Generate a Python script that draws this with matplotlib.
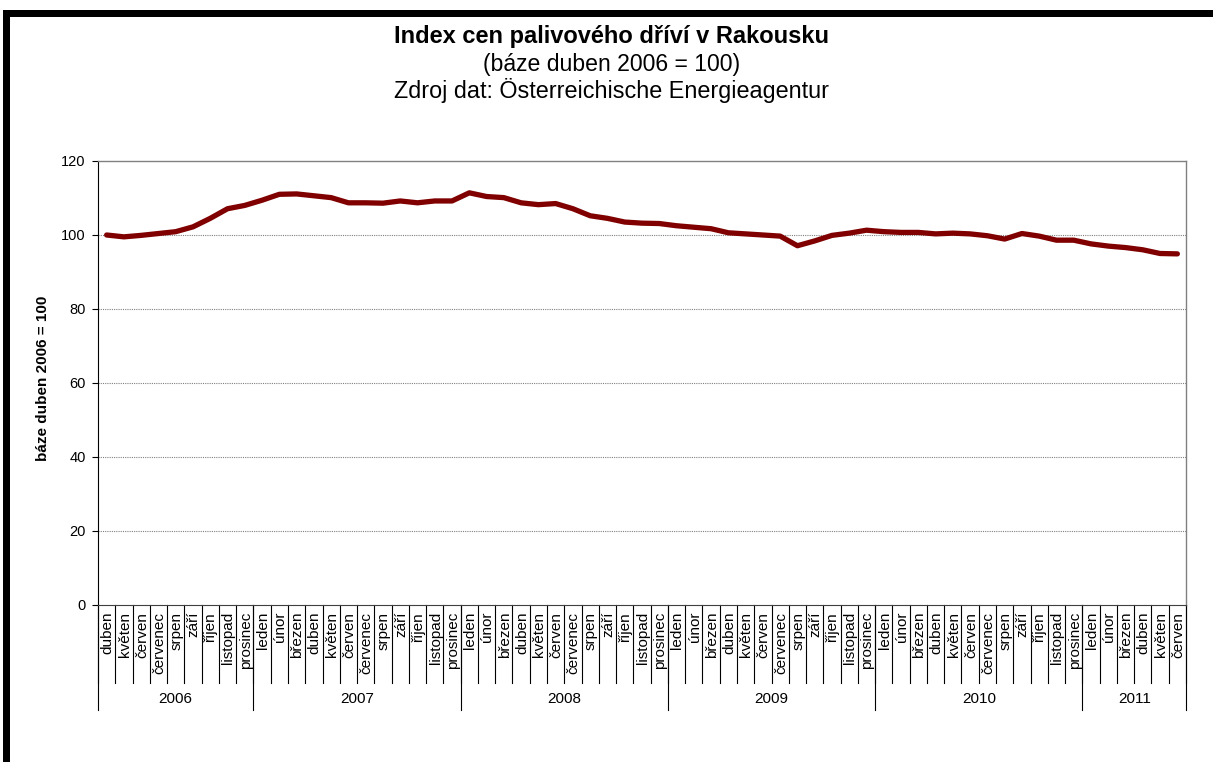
import matplotlib
matplotlib.use("Agg")
import matplotlib.pyplot as plt
from matplotlib.patches import Rectangle

plt.rcParams['font.family'] = ['Liberation Sans', 'DejaVu Sans']

years = ["2006", "2007", "2008", "2009", "2010", "2011"]
months_per_year = [9, 12, 12, 12, 12, 6]
month_names = ["leden", "únor", "březen", "duben", "květen", "červen",
               "červenec", "srpen", "září", "říjen", "listopad", "prosinec"]
start_month = [3, 0, 0, 0, 0, 0]

values = [100.0, 99.5, 99.9, 100.4, 100.9, 102.2, 104.5, 107.1, 108.0,
          109.4, 111.0, 111.1, 110.6, 110.1, 108.7, 108.7, 108.6, 109.2, 108.7, 109.2, 109.2,
          111.4, 110.4, 110.1, 108.7, 108.2, 108.5, 107.1, 105.2, 104.5, 103.5, 103.2, 103.1,
          102.5, 102.1, 101.7, 100.6, 100.3, 100.0, 99.7, 97.1, 98.4, 99.9, 100.5, 101.3,
          100.9, 100.7, 100.7, 100.3, 100.5, 100.3, 99.8, 98.9, 100.4, 99.7, 98.6, 98.6,
          97.6, 97.0, 96.6, 96.0, 95.0, 94.9]

title = "Index cen palivového dříví v Rakousku"
subtitle1 = "(báze duben 2006 = 100)"
subtitle2 = "Zdroj dat: Österreichische Energieagentur"
ylabel = "báze duben 2006 = 100"
yticks = [0, 20, 40, 60, 80, 100, 120]

W, H = 1213, 762
fig = plt.figure(figsize=(W / 100, H / 100), dpi=100)

# frame (top and left visible)
fig.add_artist(Rectangle((3 / W, 0), 7 / W, 1 - 10 / H, transform=fig.transFigure,
                         color='black', lw=0))
fig.add_artist(Rectangle((3 / W, 1 - 17 / H), 1, 7 / H, transform=fig.transFigure,
                         color='black', lw=0))

x0, x1, ytop, ybot = 98, 1186, 161, 605
ax = fig.add_axes([x0 / W, 1 - ybot / H, (x1 - x0) / W, (ybot - ytop) / H])

labels = []
for y, n, s in zip(years, months_per_year, start_month):
    labels += month_names[s:s + n]
n_total = len(labels)
xs = list(range(n_total))

ax.plot(xs, values, color='#800000', lw=3.8, solid_joinstyle='round',
        solid_capstyle='round', zorder=3)

ax.set_xlim(-0.5, n_total - 0.5)
ax.set_ylim(0, 120)
ax.set_yticks(yticks)
ax.set_yticklabels([str(v) for v in yticks], fontsize=10.5)
ax.tick_params(axis='y', direction='out', length=4, width=0.8, pad=5)
ax.set_xticks([])
for v in yticks[1:-1]:
    ax.axhline(v, color='#808080', lw=0.8, ls=(0, (1, 1)), zorder=1)

for side in ['top', 'right']:
    ax.spines[side].set_color('#808080')
    ax.spines[side].set_linewidth(1.0)
ax.spines['left'].set_color('black')
ax.spines['bottom'].set_color('#404040')

fig.text(43 / W, 1 - 378 / H, ylabel, rotation=90, ha='center', va='center',
         fontsize=11, fontweight='bold')

axh = ybot - ytop
tr = ax.get_xaxis_transform()
y_month = -(683 - ybot) / axh
y_year = -(710 - ybot) / axh
for i in range(n_total + 1):
    ax.plot([i - 0.5, i - 0.5], [0, y_month], transform=tr, color='black',
            lw=0.8, clip_on=False)
for i, lab in enumerate(labels):
    ax.text(i + 0.05, -7 / axh, lab, transform=tr, rotation=90, ha='center',
            va='top', fontsize=11)

pos = 0
ax.plot([-0.5, -0.5], [0, y_year], transform=tr, color='black', lw=0.8, clip_on=False)
for y, n in zip(years, months_per_year):
    ax.plot([pos + n - 0.5, pos + n - 0.5], [0, y_year], transform=tr,
            color='black', lw=0.8, clip_on=False)
    ax.text(pos + (n - 1) / 2, -(699 - ybot) / axh, y, transform=tr,
            ha='center', va='center', fontsize=11)
    pos += n

cx = 612 / W
fig.text(cx, 1 - 43 / H, title, ha='center', va='baseline', fontsize=17,
         fontweight='bold')
fig.text(cx, 1 - 71 / H, subtitle1, ha='center', va='baseline', fontsize=16.6)
fig.text(cx, 1 - 98 / H, subtitle2, ha='center', va='baseline', fontsize=16.8)

fig.savefig('out.png', dpi=100)
